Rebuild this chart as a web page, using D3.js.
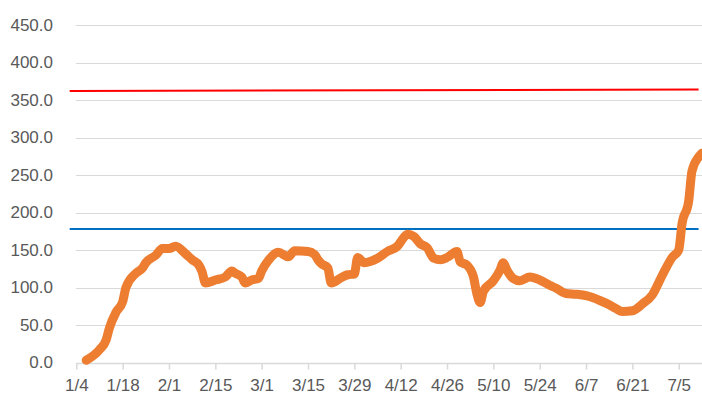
<!DOCTYPE html>
<html>
<head>
<meta charset="utf-8">
<title>Daily average chart</title>
<script src="https://cdn.jsdelivr.net/npm/d3@7"></script>
<style>
  body { margin: 0; background: #fff; }
  svg text { font-family: "Liberation Sans", Arial, sans-serif; fill: #595959; }
</style>
</head>
<body>
<div id="chart"></div>
<script>
// data (year 2021)
var dates = ["1/7","1/11","1/13","1/14","1/16","1/18","1/19","1/22","1/24","1/25",
  "1/28","1/30","2/1","2/3","2/6","2/8","2/10","2/11","2/12","2/15",
  "2/18","2/20","2/21","2/23","2/24","2/26","2/28","3/1","3/3","3/6",
  "3/9","3/11","3/15","3/17","3/18","3/19","3/21","3/22","3/25","3/27",
  "3/29","3/30","4/1","4/3","4/5","4/8","4/11","4/13","4/14","4/16",
  "4/18","4/20","4/22","4/24","4/26","4/29","4/30","5/2","5/4","5/5",
  "5/6","5/7","5/10","5/12","5/13","5/14","5/16","5/18","5/21","5/24",
  "5/27","5/29","6/1","6/4","6/8","6/11","6/14","6/16","6/18","6/21",
  "6/24","6/27","6/30","7/3","7/5","7/6","7/8","7/9","7/11","7/12"];
var values = [3,17,30,46,67,81,100,119,126,133,
  143,152,152,155,145,137,130,121,106,110,
  114,122,119,114,106,110,112,122,136,147,
  141,149,148,144,137,132,126,106,113,117,
  118,140,133,135,139,148,155,167,171,168,
  158,153,139,137,140,148,134,130,114,92,
  80,95,109,123,133,124,112,109,114,110,
  103,99,92,91,88,83,77,72,68,69,
  78,90,116,140,150,185,215,255,274,279];

// reference lines
var refDates = ["1/2","7/11"];
var redLine = [362,364];
var blueLine = [178,178];

var xTicks = ["1/4","1/18","2/1","2/15","3/1","3/15","3/29","4/12","4/26","5/10","5/24","6/7","6/21","7/5"];
var yTicks = [0,50,100,150,200,250,300,350,400,450];

var width = 702, height = 400;
var parse = d3.timeParse("%m/%d/%Y");
function toDate(s) { return parse(s + "/2021"); }

var x = d3.scaleTime()
  .domain([toDate("1/4"), toDate("7/13")])
  .range([76.3, 76.3 + 190 * 3.31]);
var y = d3.scaleLinear().domain([0, 450]).range([362.5, 25]);

var svg = d3.select("#chart").append("svg")
  .attr("width", width)
  .attr("height", height);

// gridlines
svg.append("g").selectAll("line")
  .data(yTicks.slice(1))
  .join("line")
    .attr("x1", 76).attr("x2", width)
    .attr("y1", function(d) { return Math.round(y(d)) + 0.5; })
    .attr("y2", function(d) { return Math.round(y(d)) + 0.5; })
    .attr("stroke", "#d9d9d9")
    .attr("stroke-width", 1);

// y labels
svg.append("g").selectAll("text")
  .data(yTicks)
  .join("text")
    .attr("x", 53)
    .attr("y", function(d) { return y(d); })
    .attr("dy", "0.35em")
    .attr("text-anchor", "end")
    .style("font-size", "17px")
    .text(function(d) { return d3.format(".1f")(d); });

// x axis
var xAxis = d3.axisBottom(x)
  .tickValues(xTicks.map(toDate))
  .tickFormat(function(d, i) { return xTicks[i]; })
  .tickSize(6)
  .tickPadding(9);

var gx = svg.append("g")
  .attr("transform", "translate(0," + (Math.round(y(0)) + 0.5) + ")")
  .call(xAxis);
gx.select(".domain").attr("d", "M76," + 0 + "H" + width).attr("stroke", "#d9d9d9").attr("stroke-width", 1.5);
gx.selectAll(".tick line").attr("stroke", "#d9d9d9").attr("stroke-width", 1.5);
gx.selectAll(".tick text")
  .style("font-size", "17px")
  .style("font-family", "'Liberation Sans', Arial, sans-serif")
  .attr("fill", "#595959");

var line = d3.line()
  .x(function(d) { return x(d[0]); })
  .y(function(d) { return y(d[1]); });

// reference lines
svg.append("path")
  .datum(refDates.map(function(d, i) { return [toDate(d), redLine[i]]; }))
  .attr("d", line)
  .attr("fill", "none")
  .attr("stroke", "#ff0000")
  .attr("stroke-width", 2);

svg.append("path")
  .datum(refDates.map(function(d, i) { return [toDate(d), blueLine[i]]; }))
  .attr("d", line)
  .attr("fill", "none")
  .attr("stroke", "#0070c0")
  .attr("stroke-width", 2);

// main series
svg.append("path")
  .datum(dates.map(function(d, i) { return [toDate(d), values[i]]; }))
  .attr("d", line.curve(d3.curveMonotoneX))
  .attr("fill", "none")
  .attr("stroke", "#ed7d31")
  .attr("stroke-width", 9)
  .attr("stroke-linejoin", "round")
  .attr("stroke-linecap", "round");
</script>
</body>
</html>
